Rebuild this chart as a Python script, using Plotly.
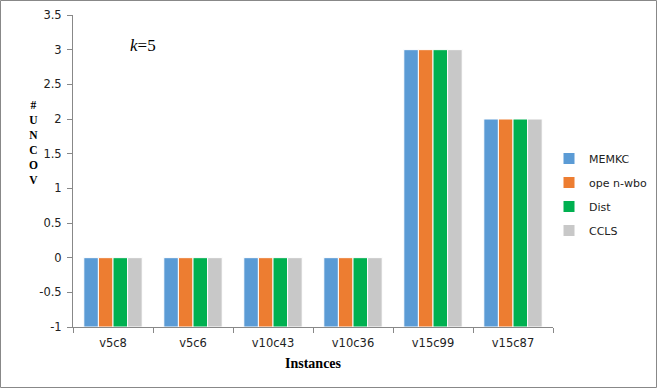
import plotly.graph_objs as go

instances = ["v5c8", "v5c6", "v10c43", "v10c36", "v15c99", "v15c87"]
memkc = [0, 0, 0, 0, 3, 2]
openwbo = [0, 0, 0, 0, 3, 2]
dist = [0, 0, 0, 0, 3, 2]
ccls = [0, 0, 0, 0, 3, 2]
y_ticks = [-1, -0.5, 0, 0.5, 1, 1.5, 2, 2.5, 3, 3.5]
y_title = "#UNCOV"

# excel draws bars from the axis crossing at -1
base = -1

series = [
    ("MEMKC", memkc, "#5B9BD5"),
    ("ope n-wbo", openwbo, "#ED7D31"),
    ("Dist", dist, "#00B050"),
    ("CCLS", ccls, "#C8C8C8"),
]

fig = go.Figure()
for i, (name, vals, col) in enumerate(series):
    fig.add_trace(go.Bar(
        x=instances, y=[v - base for v in vals], base=base, name=name,
        marker=dict(color=col, line=dict(color="white", width=1)),
        legendgroup=str(i),
    ))

W, H = 657, 388
ml, mr, mt, mb = 73, 104, 15, 61
pw, ph = W - ml - mr, H - mt - mb

def px_x(x):
    return (x - ml) / pw

def px_y(y):
    return (ph - (y - mt)) / ph

annotations = [
    dict(text="<i>k</i>=5", xref="paper", yref="paper", x=px_x(128), y=px_y(45),
         showarrow=False, xanchor="left", yanchor="middle",
         font=dict(family="Liberation Serif", size=17, color="black")),
    dict(text="<b>Instances</b>", xref="paper", yref="paper", x=px_x(313), y=px_y(363),
         showarrow=False, xanchor="center", yanchor="middle",
         font=dict(family="Liberation Serif", size=14, color="black")),
    # stacked vertical axis title, one letter per row
    dict(text="<b>" + "<br>".join(y_title) + "</b>", xref="paper", yref="paper",
         x=px_x(33), y=px_y(142), showarrow=False, xanchor="center", yanchor="middle",
         align="center", font=dict(family="Liberation Serif", size=11.5, color="black")),
]

fig.update_layout(
    width=W, height=H,
    margin=dict(l=ml, r=mr, t=mt, b=mb, autoexpand=False),
    paper_bgcolor="white", plot_bgcolor="white",
    barmode="group", bargap=0.27, bargroupgap=0,
    font=dict(family="DejaVu Sans", size=11, color="#222"),
    showlegend=True,
    legend=dict(x=px_x(549), y=px_y(144), xanchor="left", yanchor="top",
                font=dict(size=11, family="DejaVu Sans", color="#222"),
                tracegroupgap=5, bgcolor="rgba(0,0,0,0)"),
    xaxis=dict(showline=True, linecolor="#888", linewidth=1, ticks="outside",
               tickson="boundaries", ticklen=5, tickcolor="#888", ticklabelstandoff=5,
               showgrid=False, tickfont=dict(size=11.5)),
    yaxis=dict(range=[-1, 3.5], tickvals=y_ticks, ticktext=[f"{t:g}" for t in y_ticks],
               showline=True, linecolor="#888", linewidth=1, ticks="outside", ticklen=5,
               tickcolor="#888", ticklabelstandoff=3, showgrid=False, zeroline=False,
               tickfont=dict(size=11.5)),
    annotations=annotations,
    shapes=[dict(type="rect", xref="paper", yref="paper",
                 x0=-(ml - 0.5) / pw, x1=(pw + mr - 0.5) / pw,
                 y0=-(mb - 0.5) / ph, y1=(ph + mt - 0.5) / ph,
                 line=dict(color="#888", width=1))],
)

# page has a default body margin, drop it so the chart sits at 0,0
fig.write_html("out.html", config={"displayModeBar": False},
               post_script="document.body.style.margin='0';")
